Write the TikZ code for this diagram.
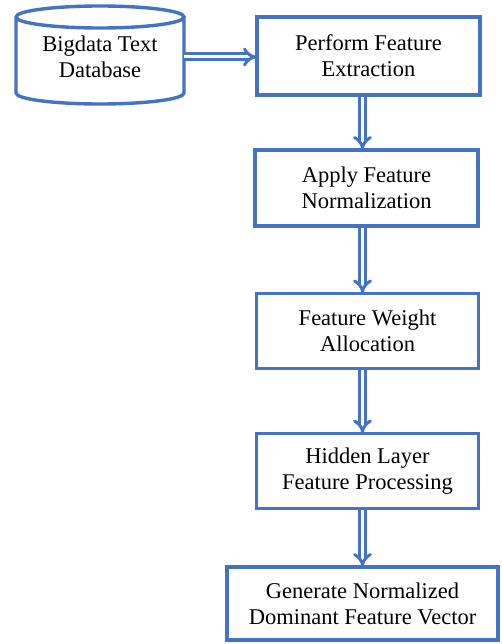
\documentclass[tikz,border=0pt]{standalone}
\usepackage{fontspec}
\setmainfont{Liberation Serif}
\usetikzlibrary{arrows.meta}
\definecolor{boxblue}{RGB}{68,114,196}
\tikzset{
  stepbox/.style={draw=boxblue, line width=3.5pt, fill=white, align=center, inner sep=0pt,
    font=\fontsize{22.5pt}{26pt}\selectfont, text=black},
  flow/.style={draw=boxblue, double=white, double distance=3pt, line width=3pt,
    -{Implies[length=13pt, width=21pt]}, shorten >=-1pt}
}
\begin{document}
\begin{tikzpicture}[x=1pt,y=-1pt]
\useasboundingbox (0,0) rectangle (502,644);
% database cylinder
\node[align=center, minimum width=170pt, minimum height=100pt, inner sep=0pt,
  font=\fontsize{22.5pt}{26pt}\selectfont, text=black] (db) at (100,57) {Bigdata Text\\Database};
\draw[boxblue, line width=3.4pt]
  (16,17) arc[start angle=180, end angle=360, x radius=84pt, y radius=11pt]
  arc[start angle=0, end angle=180, x radius=84pt, y radius=11pt]
  -- (16,93) arc[start angle=180, end angle=360, x radius=84pt, y radius=11pt] -- (184,17);
\coordinate (dbe) at (184,57);
\node[stepbox, minimum width=223pt, minimum height=78pt] (b1) at (368.5,56) {Perform Feature\\Extraction};
\node[stepbox, minimum width=223pt, minimum height=76pt] (b2) at (366.5,188) {Apply Feature\\Normalization};
\node[stepbox, minimum width=222pt, minimum height=75pt] (b3) at (367.5,331) {Feature Weight\\Allocation};
\node[stepbox, minimum width=222pt, minimum height=75pt] (b4) at (367.5,471) {Hidden Layer\\Feature Processing};
\node[stepbox, minimum width=271pt, minimum height=73pt] (b5) at (362.5,603.5) {Generate Normalized\\Dominant Feature Vector};
\draw[flow] (dbe) -- (dbe -| b1.west);
\draw[flow] (b1.south -| b5.north) -- (b2.north -| b5.north);
\draw[flow] (b2.south -| b5.north) -- (b3.north -| b5.north);
\draw[flow] (b3.south -| b5.north) -- (b4.north -| b5.north);
\draw[flow] (b4.south -| b5.north) -- (b5.north);
\end{tikzpicture}
\end{document}
